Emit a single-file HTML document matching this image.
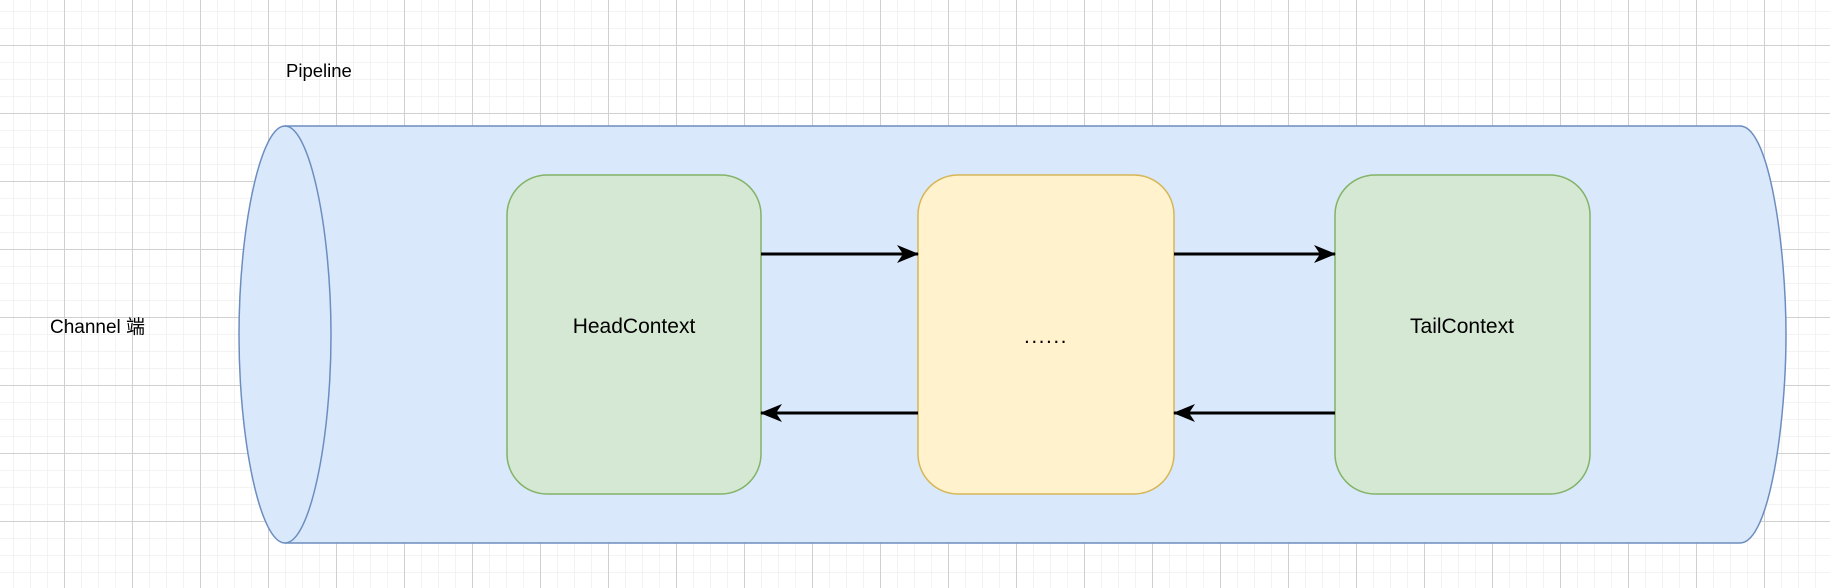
<!DOCTYPE html>
<html><head><meta charset="utf-8"><style>
html,body{margin:0;padding:0;background:#fff;}
body{width:1830px;height:588px;overflow:hidden;}
svg{display:block;}
text{font-family:"Liberation Sans","Noto Sans CJK SC",sans-serif;fill:#000;}
</style></head><body>
<svg width="1830" height="588" viewBox="0 0 1830 588" xmlns="http://www.w3.org/2000/svg">
<defs>
<pattern id="minor" x="13" y="11" width="17" height="17" patternUnits="userSpaceOnUse">
<path d="M0 0H17M0 0V17" stroke="#efefef" stroke-width="1.5" fill="none"/>
</pattern>
<pattern id="major" x="64" y="45" width="68" height="68" patternUnits="userSpaceOnUse">
<path d="M0 0.5H68M0.5 0V68" stroke="#d0d0d0" stroke-width="1" fill="none"/>
</pattern>
<marker id="ah" viewBox="0 0 22 18" refX="21" refY="9" markerWidth="22" markerHeight="18" markerUnits="userSpaceOnUse" orient="auto">
<path d="M0 0L22 9L0 18L6 9Z" fill="#000"/>
</marker>
</defs>
<rect width="1830" height="588" fill="url(#minor)"/>
<rect width="1830" height="588" fill="url(#major)"/>

<text x="286" y="77" font-size="18.5">Pipeline</text>
<text x="50" y="333" font-size="19">Channel 端</text>

<path d="M285 126 H1740 C1770 126 1786 250 1786 335 C1786 420 1770 543 1740 543 H285 C260 543 239 440 239 335 C239 230 260 126 285 126 Z" fill="#dae8fc" stroke="#6c8ebf" stroke-width="1.5"/>
<path d="M285 126 C310 126 331 230 331 335 C331 440 310 543 285 543" fill="none" stroke="#6c8ebf" stroke-width="1.5"/>

<rect x="507" y="175" width="254" height="319" rx="40" ry="40" fill="#d5e8d4" stroke="#82b366" stroke-width="1.5"/>
<rect x="918" y="175" width="256" height="319" rx="40" ry="40" fill="#fff2cc" stroke="#d6b656" stroke-width="1.5"/>
<rect x="1335" y="175" width="255" height="319" rx="40" ry="40" fill="#d5e8d4" stroke="#82b366" stroke-width="1.5"/>

<text x="634" y="333" font-size="21" text-anchor="middle">HeadContext</text>
<text x="1046" y="343" font-size="21" letter-spacing="1.5" text-anchor="middle">......</text>
<text x="1462" y="333" font-size="21" text-anchor="middle">TailContext</text>

<line x1="761" y1="254" x2="918" y2="254" stroke="#000" stroke-width="3" marker-end="url(#ah)"/>
<line x1="1174" y1="254" x2="1335" y2="254" stroke="#000" stroke-width="3" marker-end="url(#ah)"/>
<line x1="918" y1="413" x2="761" y2="413" stroke="#000" stroke-width="3" marker-end="url(#ah)"/>
<line x1="1335" y1="413" x2="1174" y2="413" stroke="#000" stroke-width="3" marker-end="url(#ah)"/>
</svg>
</body></html>
